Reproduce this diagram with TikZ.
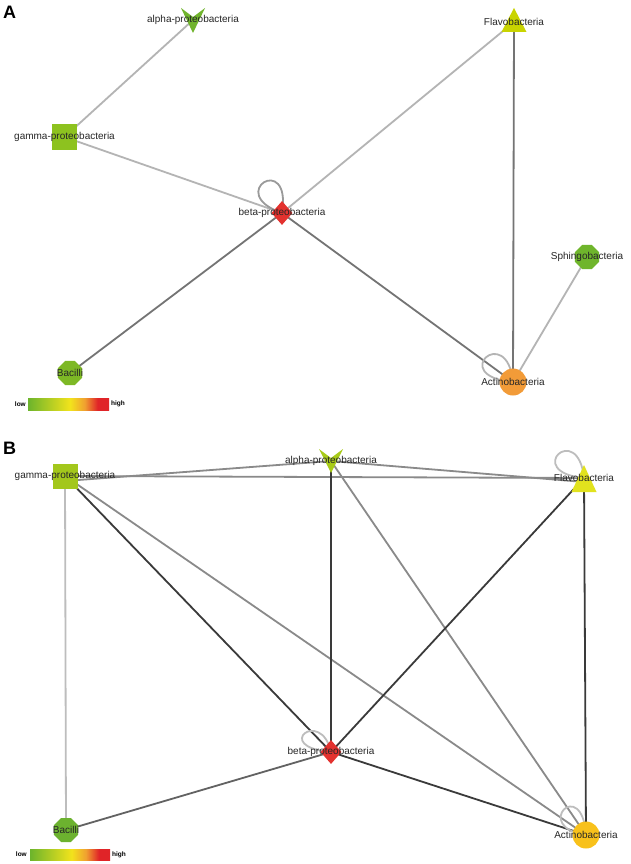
\documentclass[tikz,border=0pt]{standalone}
\usepackage{fontspec}
\setmainfont{Liberation Sans}
\usetikzlibrary{shapes.geometric}
\definecolor{eLight}{HTML}{B4B4B4}
\definecolor{eDark}{HTML}{747474}
\definecolor{eLoopA}{HTML}{9A9A9A}
\definecolor{bLight}{HTML}{BDBDBD}
\definecolor{bMid}{HTML}{8A8A8A}
\definecolor{bMidDark}{HTML}{626262}
\definecolor{bDark}{HTML}{3A3A3A}
\definecolor{cAlphaA}{HTML}{70B42C}
\definecolor{cGammaA}{HTML}{8DC21F}
\definecolor{cFlavoA}{HTML}{C9D400}
\definecolor{cBeta}{HTML}{E3322F}
\definecolor{cSphingoA}{HTML}{6FB52C}
\definecolor{cBacilliA}{HTML}{7DB825}
\definecolor{cActinoA}{HTML}{F29B38}
\definecolor{cGammaB}{HTML}{A3C71C}
\definecolor{cAlphaB}{HTML}{A8CB18}
\definecolor{cFlavoB}{HTML}{E1E21E}
\definecolor{cBacilliB}{HTML}{6CB22F}
\definecolor{cActinoB}{HTML}{F8C11B}
\definecolor{lgGreen}{HTML}{6CB42C}
\definecolor{lgYellow}{HTML}{F2E31C}
\definecolor{lgOrange}{HTML}{F0A030}
\definecolor{lgRed}{HTML}{E02428}
\pgfdeclarehorizontalshading{legendbar}{100bp}{color(0bp)=(lgGreen); color(25bp)=(lgGreen); color(51bp)=(lgYellow); color(60bp)=(lgOrange); color(68bp)=(lgRed); color(75bp)=(lgRed); color(100bp)=(lgRed)}
\begin{document}
\begin{tikzpicture}[x=1pt,y=-1pt,
  edge/.style={line width=1.8pt},
  lbl/.style={font=\fontsize{10}{10}\selectfont, text=black!85, inner sep=0pt},
  panel/.style={font=\fontsize{18}{18}\selectfont\bfseries, inner sep=0pt},
  legtxt/.style={font=\fontsize{6.5}{6.5}\selectfont\bfseries, inner sep=0pt},
  sq/.style={rectangle, minimum size=25pt, inner sep=0pt},
  dia/.style={diamond, minimum width=21pt, minimum height=24pt, inner sep=0pt, fill=cBeta},
  oct/.style={regular polygon, regular polygon sides=8, minimum size=26pt, inner sep=0pt},
  circ/.style={circle, minimum size=27pt, inner sep=0pt}]
\useasboundingbox (0,0) rectangle (630,864);
\fill[white] (0,0) rectangle (630,864);

% ---------------- Panel A ----------------
\node[panel] (labA) at (9.5,12.5) {A};
\coordinate (aA) at (193,20);
\coordinate (gA) at (64.5,137);
\coordinate (fA) at (514,22);
\coordinate (beA) at (282,213);
\coordinate (sA) at (587,257);
\coordinate (baA) at (70,373);
\coordinate (acA) at (513,382);

\draw[edge, eLight] (aA) -- (gA);
\draw[edge, eLight] (gA) -- (beA);
\draw[edge, eLight] (beA) -- (fA);
\draw[edge, eLight] (sA) -- (acA);
\draw[edge, eDark] (fA) -- (acA);
\draw[edge, eDark] (beA) -- (baA);
\draw[edge, eDark] (beA) -- (acA);
\draw[edge, eLoopA] (beA) .. controls (224,193) and (292,151) .. (beA);
\draw[edge, eLight] (acA) .. controls (447,376) and (507,322) .. (acA);

\fill[cAlphaA, shift={(aA)}] (-12,-12) -- (0,-3) -- (12,-12) -- (0,13) -- cycle;
\node[sq, fill=cGammaA] (gAs) at (gA) {};
\fill[cFlavoA, shift={(fA)}] (0,-14) -- (12.5,10) -- (-12.5,10) -- cycle;
\node[dia] (beAs) at (beA) {};
\node[oct, fill=cSphingoA] (sAs) at (sA) {};
\node[oct, fill=cBacilliA] (baAs) at (baA) {};
\node[circ, fill=cActinoA] (acAs) at (acA) {};

\node[lbl] (laA) at (aA) {alpha-proteobacteria};
\node[lbl] (lgA) at (gA) {gamma-proteobacteria};
\node[lbl] (lfA) at (fA) {Flavobacteria};
\node[lbl] (lbeA) at (beA) {beta-proteobacteria};
\node[lbl] (lsA) at (sA) {Sphingobacteria};
\node[lbl] (lbaA) at (baA) {Bacilli};
\node[lbl] (lacA) at (acA) {Actinobacteria};

\node[legtxt, anchor=east] (lowA) at (26,404) {low};
\shade[shading=legendbar] (28,398) rectangle (109,410);
\node[legtxt, anchor=west] (highA) at (111,404) {high};

% ---------------- Panel B ----------------
\node[panel] (labB) at (9.5,448.5) {B};
\coordinate (gB) at (65,476);
\coordinate (aB) at (331,461);
\coordinate (fB) at (584,478);
\coordinate (beB) at (331,752);
\coordinate (baB) at (66,830);
\coordinate (acB) at (586,835);

\draw[edge, bLight] (gB) -- (baB);
\draw[edge, bMid] ([yshift=-5pt]gB) -- (aB);
\draw[edge, bMid] (gB) -- (fB);
\draw[edge, bMid] (aB) -- ([yshift=-4pt]fB);
\draw[edge, bMid] (gB) -- (acB);
\draw[edge, bMid] (aB) -- (acB);
\draw[edge, bMidDark] (beB) -- (baB);
\draw[edge, bDark] (gB) -- (beB);
\draw[edge, bDark] (aB) -- (beB);
\draw[edge, bDark] (fB) -- (beB);
\draw[edge, bDark] (beB) -- (acB);
\draw[edge, bDark] (fB) -- (acB);
\draw[edge, bLight] (beB) .. controls (271,747) and (321,707) .. (beB);
\draw[edge, bLight] (fB) .. controls (522,472) and (578,420) .. (fB);
\draw[edge, bLight] (acB) .. controls (531,827) and (582,775) .. (acB);

\node[sq, fill=cGammaB] (gBs) at (gB) {};
\fill[cAlphaB, shift={(aB)}] (-12,-12) -- (0,-3) -- (12,-12) -- (0,12) -- cycle;
\fill[cFlavoB, shift={(fB)}] (0,-13) -- (12.5,14) -- (-12.5,14) -- cycle;
\node[dia] (beBs) at (beB) {};
\node[oct, fill=cBacilliB] (baBs) at (baB) {};
\node[circ, fill=cActinoB] (acBs) at (acB) {};

\node[lbl] (lgB) at (gB) {gamma-proteobacteria};
\node[lbl] (laB) at (aB) {alpha-proteobacteria};
\node[lbl] (lfB) at (fB) {Flavobacteria};
\node[lbl] (lbeB) at (beB) {beta-proteobacteria};
\node[lbl] (lbaB) at (baB) {Bacilli};
\node[lbl] (lacB) at (acB) {Actinobacteria};

\node[legtxt, anchor=east] (lowB) at (27,854.5) {low};
\shade[shading=legendbar] (30,849) rectangle (110,860);
\node[legtxt, anchor=west] (highB) at (112,854.5) {high};
\end{tikzpicture}
\end{document}
